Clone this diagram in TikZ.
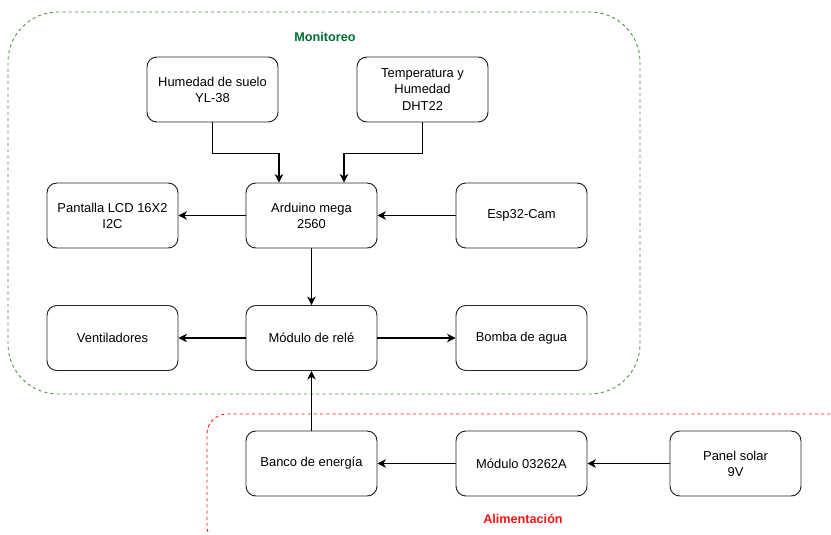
\documentclass[tikz,border=0pt]{standalone}
\usepackage{fontspec}
\setmainfont{Liberation Sans}
\usetikzlibrary{arrows.meta}

\definecolor{monitorgreen}{RGB}{0,110,50}
\definecolor{boxgreen}{RGB}{70,140,60}
\definecolor{alimred}{RGB}{250,20,20}

\begin{document}
\begin{tikzpicture}[
        block/.style={draw=black!85, line width=0.7pt, rounded corners=7pt, minimum width=3.275cm,
            minimum height=1.625cm, align=center, font=\fontsize{9.2}{11.5}\selectfont},
        link/.style={line width=0.8pt, -{Stealth[length=6pt, width=6pt, inset=1.8pt]}},
        group/.style={line width=0.6pt, dash pattern=on 2.2pt off 2.2pt, rounded corners=#1},
        grouptitle/.style={font=\fontsize{9}{11}\selectfont\bfseries}
    ]

        \useasboundingbox (0,0) rectangle (20.775,13.35);

        % groups
        \begin{scope}
            \clip (0,0) rectangle (20.775,13.35);
            \draw[group=1.25cm, boxgreen] (0.2,3.5) rectangle (16.0,13.05);
            \draw[group=0.5cm, alimred] (5.175,-0.3) rectangle (21.25,3.0);
        \end{scope}

        \node[grouptitle, monitorgreen] (monitoreo) at (8.125,12.425) {Monitoreo};
        \node[grouptitle, alimred] (alimentacion) at (13.075,0.375) {Alimentación};

        % monitoreo
        \node[block] (humedad) at (5.3125,11.1125) {Humedad de suelo\\YL-38};
        \node[block] (temp) at (10.5625,11.1125) {Temperatura y\\Humedad\\DHT22};
        \node[block] (lcd) at (2.8125,7.9625) {Pantalla LCD 16X2\\I2C};
        \node[block] (arduino) at (7.7875,7.9625) {Arduino mega\\2560};
        \node[block] (esp) at (13.0375,7.9625) {Esp32-Cam};
        \node[block] (vent) at (2.8125,4.9) {Ventiladores};
        \node[block] (rele) at (7.7875,4.9) {Módulo de relé};
        \node[block] (bomba) at (13.0375,4.9) {Bomba de agua};

        % alimentacion
        \node[block] (banco) at (7.7875,1.7625) {Banco de energía};
        \node[block] (modulo) at (13.0375,1.7625) {Módulo 03262A};
        \node[block] (panel) at (18.3875,1.7625) {Panel solar\\9V};

        \draw[link] (humedad.south) -- ++(0,-0.775) -| ([xshift=-0.8125cm]arduino.north);
        \draw[link] (temp.south) -- ++(0,-0.775) -| ([xshift=0.8125cm]arduino.north);
        \draw[link] (arduino) -- (lcd);
        \draw[link] (esp) -- (arduino);
        \draw[link] (arduino) -- (rele);
        \draw[link] (rele) -- (vent);
        \draw[link] (rele) -- (bomba);
        \draw[link] (banco) -- (rele);
        \draw[link] (modulo) -- (banco);
        \draw[link] (panel) -- (modulo);

    \end{tikzpicture}
\end{document}
